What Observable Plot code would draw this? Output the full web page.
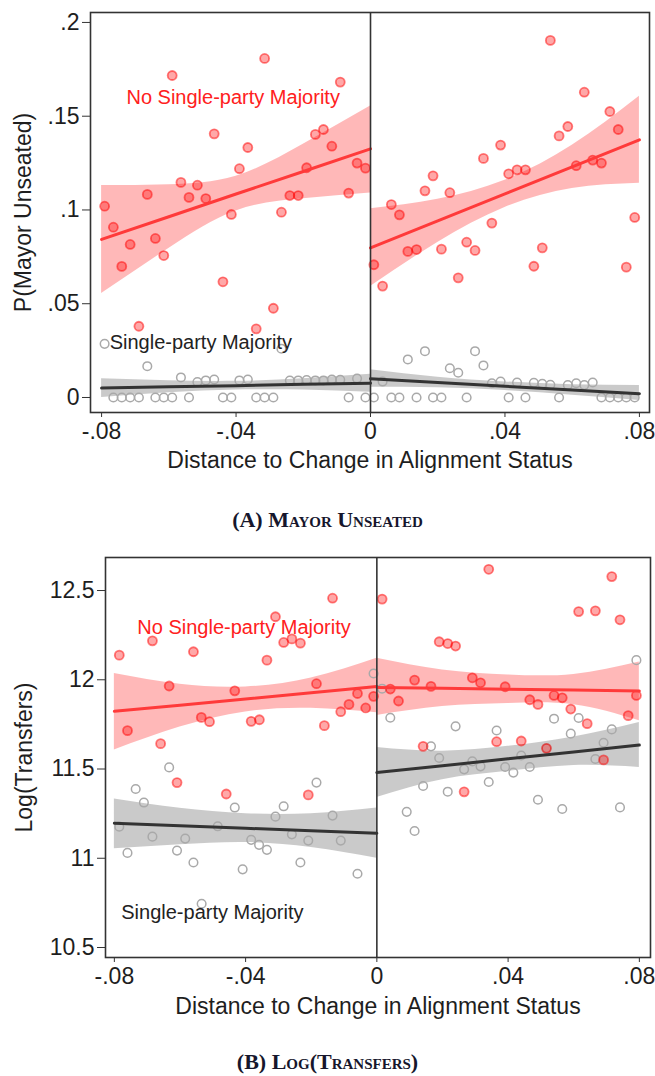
<!DOCTYPE html>
<html><head><meta charset="utf-8">
<script src="https://cdn.jsdelivr.net/npm/d3@7"></script>
<script src="https://cdn.jsdelivr.net/npm/@observablehq/plot@0.6"></script>
<style>
body{margin:0;background:#fff;}
#wrap{position:relative;width:655px;height:1076px;background:#fff;}
.panel{position:absolute;left:0;}
.cap{position:absolute;left:0;width:655px;text-align:center;font-family:"Liberation Serif","DejaVu Serif",serif;font-weight:bold;font-variant:small-caps;font-size:22px;color:#16162c;line-height:28px;}
</style></head>
<body><div id="wrap">
<div id="pa" class="panel" style="top:0px"></div>
<div class="cap" style="top:506px">(A) Mayor Unseated</div>
<div id="pb" class="panel" style="top:540px"></div>
<div class="cap" style="top:1048px">(B) Log(Transfers)</div>
</div>
<script>
// ---------- shared axis ----------
const xTickValues = [-0.08, -0.04, 0, 0.04, 0.08];
const xTickLabels = ["-.08", "-.04", "0", ".04", ".08"];
const xAxisTitle = "Distance to Change in Alignment Status";
const groupNames = ["No Single-party Majority", "Single-party Majority"];

// ---------- Panel A: Mayor unseated ----------
const aTickValues = [0, 0.05, 0.1, 0.15, 0.2];
const aTickLabels = ["0", ".05", ".1", ".15", ".2"];
const aYTitle = "P(Mayor Unseated)";
const aXLeft = [-0.0791,-0.0765,-0.0740,-0.0715,-0.0689,-0.0664,-0.0640,-0.0615,-0.0590,-0.0564,-0.0540,-0.0515,-0.0490,-0.0465,-0.0439,-0.0414,-0.0390,-0.0365,-0.0340,-0.0315,-0.0289,-0.0265,-0.0240,-0.0215,-0.0190,-0.0164,-0.0140,-0.0115,-0.0090,-0.0065,-0.0040,-0.0015];
const aXRight = [0.0010,0.0036,0.0062,0.0086,0.0111,0.0137,0.0162,0.0186,0.0211,0.0236,0.0261,0.0286,0.0311,0.0336,0.0361,0.0387,0.0411,0.0436,0.0461,0.0486,0.0511,0.0535,0.0561,0.0587,0.0612,0.0636,0.0661,0.0687,0.0712,0.0737,0.0761,0.0786];
const aRedLeft = [0.102,0.0908,0.0699,0.0816,0.038,0.1083,0.0848,0.0757,0.1717,0.1147,0.1067,0.1132,0.1061,0.1406,0.0617,0.0976,0.122,0.1333,0.0366,0.1808,0.0476,0.0988,0.1077,0.1077,0.1225,0.1403,0.1429,0.134,0.1682,0.109,0.125,0.1223];
const aRedRight = [0.0708,0.0594,0.1029,0.0974,0.0779,0.0789,0.1102,0.1182,0.0791,0.1092,0.0638,0.0828,0.0784,0.1275,0.093,0.1346,0.1193,0.1214,0.1214,0.070,0.0798,0.1904,0.1395,0.1445,0.1236,0.1628,0.1266,0.125,0.1525,0.1429,0.0695,0.096];
const aGreyLeft = [0.0286,0,0,0,0,0.0167,0,0,0,0.0107,0,0.0082,0.0091,0.0096,0,0,0.0091,0.0096,0,0,0,0.026,0.009,0.0091,0.0093,0.0091,0.0091,0.0096,0.0094,0,0.0101,0];
const aGreyRight = [0,0.0085,0,0,0.0203,0,0.0247,0,0,0.0156,0.0132,0,0.0247,0.0171,0.0076,0.0085,0,0.008,0,0.0078,0.0073,0.0068,0,0.0066,0.0076,0.0066,0.008,0,0,0,0,0];
// fitted lines and confidence bands (read at five x positions per side)
const fitXLeft = [-0.08, -0.06, -0.04, -0.02, 0];
const fitXRight = [0, 0.02, 0.04, 0.06, 0.08];
const aRedFitL = [0.0843,0.0964,0.1085,0.1205,0.1326];
const aRedLoL  = [0.0555,0.0795,0.0995,0.1060,0.1090];
const aRedHiL  = [0.1130,0.1135,0.1180,0.1350,0.1555];
const aRedFitR = [0.0798,0.0942,0.1086,0.1230,0.1374];
const aRedLoR  = [0.0592,0.0827,0.1013,0.1115,0.1143];
const aRedHiR  = [0.1006,0.1057,0.1159,0.1345,0.1607];
const aGreyFitL = [0.0050,0.0057,0.0063,0.0070,0.0076];
const aGreyLoL  = [0.0000,0.0025,0.0040,0.0040,0.0028];
const aGreyHiL  = [0.0100,0.0089,0.0086,0.0100,0.0124];
const aGreyFitR = [0.0100,0.0080,0.0060,0.0040,0.0020];
const aGreyLoR  = [0.0055,0.0052,0.0037,0.0012,-0.0016];
const aGreyHiR  = [0.0148,0.0108,0.0083,0.0068,0.0064];
const aNoteX = [-0.0726, -0.0776];
const aNoteY = [0.160, 0.0293];

// ---------- Panel B: Log(Transfers) ----------
const bTickValues = [10.5, 11, 11.5, 12, 12.5];
const bTickLabels = ["10.5", "11", "11.5", "12", "12.5"];
const bYTitle = "Log(Transfers)";
const bRedX = [-0.0785,-0.076,-0.0684,-0.0659,-0.0633,-0.0609,-0.0559,-0.0535,-0.051,-0.0459,-0.0433,-0.0383,-0.0358,-0.0335,-0.0309,-0.0284,-0.0259,-0.0233,-0.0209,-0.0184,-0.016,-0.0135,-0.011,-0.0085,-0.0059,-0.0034,-0.001,
  0.0016,0.0041,0.0066,0.0115,0.0141,0.0165,0.019,0.0216,0.024,0.0266,0.0291,0.0316,0.0341,0.0365,0.0391,0.044,0.0466,0.0491,0.0517,0.054,0.0565,0.0591,0.0615,0.0641,0.0666,0.0691,0.0716,0.0741,0.0766,0.0791];
const bRedY = [12.138,11.715,12.218,11.642,11.965,11.424,12.157,11.789,11.765,11.36,11.938,11.767,11.776,12.11,12.353,12.209,12.229,12.205,11.355,11.978,11.743,12.457,11.821,11.862,11.923,11.842,11.907,
  12.452,11.948,11.881,11.998,11.627,11.963,12.213,12.203,12.189,11.372,12.011,11.983,12.619,11.653,11.961,11.657,11.888,11.862,11.616,11.912,11.899,11.836,12.382,11.754,12.386,11.551,12.578,12.336,11.799,11.912];
const bGreyX = [-0.0785,-0.076,-0.0735,-0.071,-0.0684,-0.0633,-0.0609,-0.0584,-0.0559,-0.0534,-0.0485,-0.0433,-0.0409,-0.0383,-0.0359,-0.0335,-0.0309,-0.0284,-0.0259,-0.0233,-0.0209,-0.0184,-0.0135,-0.011,-0.0059,-0.001,
  0.0016,0.0041,0.0091,0.0115,0.0141,0.0165,0.019,0.0216,0.024,0.0266,0.0291,0.0316,0.0341,0.0365,0.0391,0.0416,0.044,0.0466,0.0491,0.0517,0.054,0.0565,0.0591,0.0615,0.0666,0.0691,0.0716,0.0741,0.0791];
const bGreyY = [11.177,11.03,11.388,11.312,11.121,11.509,11.043,11.11,10.976,10.745,11.179,11.284,10.938,11.103,11.075,11.047,11.233,11.291,11.134,10.976,11.099,11.424,11.239,11.099,10.913,12.035,
  11.95,11.787,11.26,11.153,11.405,11.627,11.562,11.373,11.739,11.498,11.543,11.515,11.427,11.716,11.511,11.48,11.576,11.511,11.328,11.616,11.782,11.276,11.698,11.786,11.556,11.647,11.722,11.285,12.11];
const bRedFitL = [11.823,11.857,11.892,11.927,11.962];
const bRedLoL  = [11.607,11.735,11.820,11.840,11.815];
const bRedHiL  = [12.035,11.975,11.960,12.010,12.120];
const bRedFitR = [11.957,11.952,11.947,11.942,11.937];
const bRedLoR  = [11.800,11.850,11.867,11.860,11.770];
const bRedHiR  = [12.120,12.055,12.027,12.030,12.100];
const bGreyFitL = [11.196,11.182,11.168,11.154,11.140];
const bGreyLoL  = [11.053,11.075,11.088,11.060,11.000];
const bGreyHiL  = [11.332,11.280,11.250,11.250,11.282];
const bGreyFitR = [11.480,11.518,11.557,11.595,11.634];
const bGreyLoR  = [11.341,11.440,11.487,11.520,11.509];
const bGreyHiR  = [11.621,11.600,11.627,11.680,11.761];
const bNoteX = [-0.0730, -0.0779];
const bNoteY = [12.291, 10.696];

// ---------- styling ----------
const RED = "#ff0000", DARK = "#333333", GREY_PT = "#a9a9a9";
const FONT = '"Liberation Sans", Arial, sans-serif';

const rows = (xs, ys) => xs.map((x, i) => ({x, y: ys[i]}));
const bandRows = (xs, fit, lo, hi) => xs.map((x, i) => ({x, fit: fit[i], lo: lo[i], hi: hi[i]}));

function panel(cfg) {
  const fmtX = d => xTickLabels[xTickValues.indexOf(d)];
  const fmtY = d => cfg.yLabels[cfg.yTicks.indexOf(d)];
  const marks = [];
  for (const f of cfg.fits) {
    marks.push(Plot.areaY(f.rows, {x: "x", y1: "lo", y2: "hi", fill: f.red ? RED : "#808080", fillOpacity: f.red ? 0.28 : 0.42, curve: "natural"}));
  }
  marks.push(Plot.dot(cfg.grey, {x: "x", y: "y", r: 4.3, stroke: GREY_PT, strokeWidth: 1.5, fill: "none"}));
  marks.push(Plot.dot(cfg.red, {x: "x", y: "y", r: 4.5, fill: RED, fillOpacity: 0.34, stroke: RED, strokeOpacity: 0.5, strokeWidth: 1.8}));
  for (const f of cfg.fits) {
    marks.push(Plot.line(f.rows, {x: "x", y: "fit", stroke: f.red ? "#ff3a3a" : DARK, strokeWidth: 3}));
  }
  marks.push(Plot.ruleX([0], {stroke: DARK, strokeWidth: 1.6}));
  marks.push(Plot.frame({stroke: DARK, strokeWidth: 1.6}));
  marks.push(Plot.axisX({ticks: xTickValues, tickFormat: fmtX, tickSize: 5, tickPadding: 5, fontSize: 23, stroke: DARK,
    label: xAxisTitle, labelAnchor: "center", labelArrow: "none", labelOffset: cfg.xLabelOffset}));
  marks.push(Plot.axisY({ticks: cfg.yTicks, tickFormat: fmtY, tickSize: 8, tickPadding: 3, fontSize: 23, stroke: DARK,
    label: cfg.yTitle, labelAnchor: "center", labelArrow: "none", labelOffset: cfg.yLabelOffset}));
  marks.push(Plot.text([{x: cfg.noteX[0], y: cfg.noteY[0], t: groupNames[0]}], {x: "x", y: "y", text: "t", textAnchor: "start", fill: "#ff2020", fontSize: 20}));
  marks.push(Plot.text([{x: cfg.noteX[1], y: cfg.noteY[1], t: groupNames[1]}], {x: "x", y: "y", text: "t", textAnchor: "start", fill: "#222", fontSize: 20}));
  return Plot.plot({
    width: 655, height: 480,
    marginLeft: cfg.mL, marginRight: cfg.mR, marginTop: cfg.mT, marginBottom: cfg.mB,
    x: {domain: cfg.xDomain},
    y: {domain: cfg.yDomain},
    style: {fontFamily: FONT, color: "#1e1e1e", background: "white", overflow: "visible"},
    marks
  });
}

document.getElementById("pa").append(panel({
  mL: 90, mR: 6, mT: 12, mB: 68,
  xDomain: [-0.0833, 0.0830], yDomain: [-0.008, 0.2053],
  yTicks: aTickValues, yLabels: aTickLabels, yTitle: aYTitle,
  xLabelOffset: 55, yLabelOffset: 76,
  red: rows(aXLeft, aRedLeft).concat(rows(aXRight, aRedRight)),
  grey: rows(aXLeft, aGreyLeft).concat(rows(aXRight, aGreyRight)),
  fits: [
    {red: false, rows: bandRows(fitXLeft, aGreyFitL, aGreyLoL, aGreyHiL)},
    {red: false, rows: bandRows(fitXRight, aGreyFitR, aGreyLoR, aGreyHiR)},
    {red: true, rows: bandRows(fitXLeft, aRedFitL, aRedLoL, aRedHiL)},
    {red: true, rows: bandRows(fitXRight, aRedFitR, aRedLoR, aRedHiR)}
  ],
  noteX: aNoteX, noteY: aNoteY
}));

document.getElementById("pb").append(panel({
  mL: 105, mR: 5, mT: 17, mB: 63,
  xDomain: [-0.0827, 0.0834], yDomain: [10.444, 12.685],
  yTicks: bTickValues, yLabels: bTickLabels, yTitle: bYTitle,
  xLabelOffset: 56, yLabelOffset: 90,
  red: rows(bRedX, bRedY),
  grey: rows(bGreyX, bGreyY),
  fits: [
    {red: false, rows: bandRows(fitXLeft, bGreyFitL, bGreyLoL, bGreyHiL)},
    {red: false, rows: bandRows(fitXRight, bGreyFitR, bGreyLoR, bGreyHiR)},
    {red: true, rows: bandRows(fitXLeft, bRedFitL, bRedLoL, bRedHiL)},
    {red: true, rows: bandRows(fitXRight, bRedFitR, bRedLoR, bRedHiR)}
  ],
  noteX: bNoteX, noteY: bNoteY
}));
</script>
</body></html>
